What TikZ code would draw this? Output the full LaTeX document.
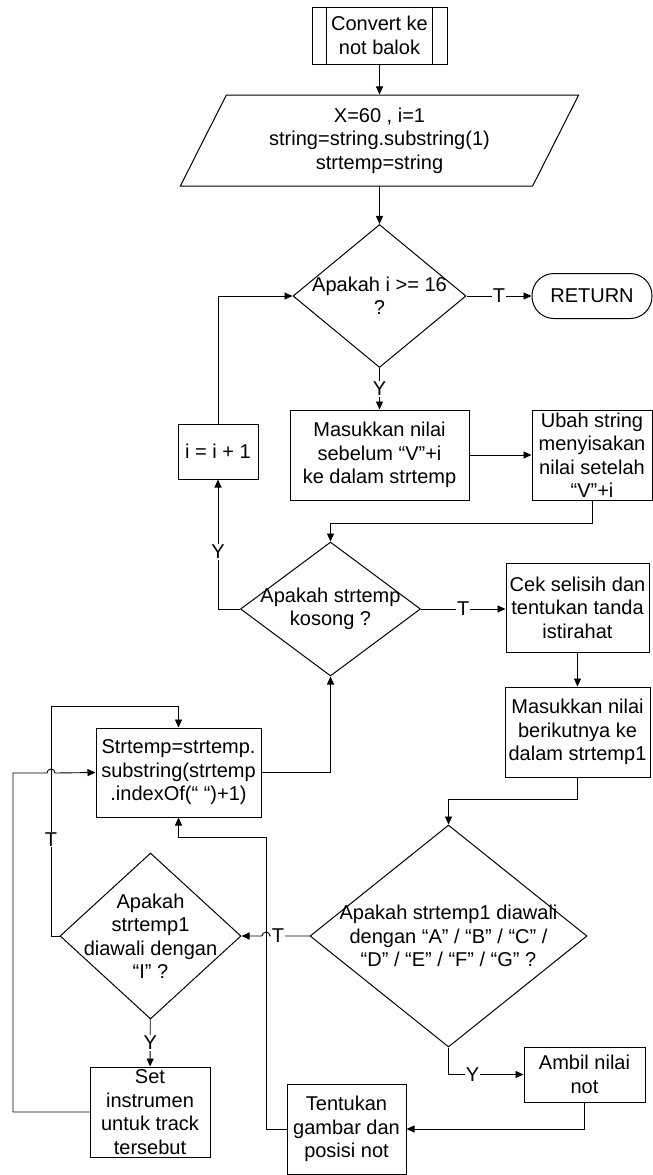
\documentclass[tikz,border=0pt]{standalone}
\usepackage{fontspec}
\setmainfont{Liberation Sans}
\usetikzlibrary{shapes.geometric,arrows.meta}

\begin{document}
\begin{tikzpicture}[x=1pt,y=-1pt,line width=0.9pt,
	every node/.style={font=\fontsize{20}{23.5}\selectfont, align=center, inner sep=0pt},
	box/.style={draw, rectangle, line width=1pt},
	decision/.style={draw, diamond, line width=1pt},
	lbl/.style={fill=white, inner sep=1pt},
	arr/.style={-{Triangle[length=8pt,width=7pt]}}]
	\useasboundingbox (0,0) rectangle (653,1175);
	\node[box, minimum width=135pt, minimum height=57pt] (conv) at (379.5,35.5) {Convert ke\\not balok};
	\draw ([xshift=15pt]conv.north west) -- ([xshift=15pt]conv.south west);
	\draw ([xshift=-15pt]conv.north east) -- ([xshift=-15pt]conv.south east);
	\node[draw, line width=1pt, trapezium, trapezium left angle=63.2, trapezium right angle=116.8, trapezium stretches=true, minimum width=399pt, minimum height=91pt] (para) at (379.5,140.5) {X=60 , i=1\\string=string.substring(1)\\strtemp=string};
	\node[decision, minimum width=173pt, minimum height=143pt, label={center:Apakah i >= 16\\?}] (d1) at (379.5,296) {};
	\node[draw, line width=1pt, rounded corners=22pt, minimum width=120pt, minimum height=45pt] (ret) at (592,296) {RETURN};
	\node[box, minimum width=179pt, minimum height=90pt] (masuk) at (379.5,455) {Masukkan nilai\\sebelum “V”+i\\ke dalam strtemp};
	\node[box, minimum width=80pt, minimum height=55pt] (inc) at (218,451.5) {i = i + 1};
	\node[box, minimum width=120pt, minimum height=90pt] (ubah) at (592,455) {Ubah string\\menyisakan\\nilai setelah\\“V”+i};
	\node[decision, minimum width=180pt, minimum height=134pt, label={center:Apakah strtemp\\kosong ?}] (d2) at (330.5,609) {};
	\node[box, minimum width=143pt, minimum height=89pt] (cek) at (577.5,607.5) {Cek selisih dan\\tentukan tanda\\istirahat};
	\node[box, minimum width=145pt, minimum height=90pt] (isi) at (577.5,732) {Masukkan nilai\\berikutnya ke\\dalam strtemp1};
	\node[box, minimum width=165pt, minimum height=89pt] (strt) at (178.5,772.5) {Strtemp=strtemp.\\substring(strtemp\\.indexOf(“ “)+1)};
	\node[decision, minimum width=277pt, minimum height=222pt, label={center:Apakah strtemp1 diawali\\dengan “A” / “B” / “C” /\\“D” / “E” / “F” / “G” ?}] (d3) at (448.5,936) {};
	\node[decision, minimum width=181pt, minimum height=166pt, label={center:Apakah\\strtemp1\\diawali dengan\\“I” ?}] (d4) at (150.5,936) {};
	\node[box, minimum width=120pt, minimum height=90pt] (set) at (150,1112) {Set\\instrumen\\untuk track\\tersebut};
	\node[box, minimum width=121pt, minimum height=55pt] (ambil) at (584.5,1074.5) {Ambil nilai\\not};
	\node[box, minimum width=119pt, minimum height=90pt] (tent) at (346.5,1129) {Tentukan\\gambar dan\\posisi not};
	\coordinate (tloop) at (51,706);
	\coordinate (lloop) at (13,773);
	\coordinate (rloop) at (266,837);
	\draw[arr] (conv) -- (para);
	\draw[arr] (para) -- (d1);
	\draw[arr] (d1) -- node[lbl]{T} (ret);
	\draw[arr] (d1) -- node[lbl]{Y} (masuk);
	\draw[arr] (masuk) -- (ubah);
	\draw[arr] (ubah.south) -- ++(0,23) -| (d2.north);
	\draw[arr] (d2.west) -| node[lbl, pos=0.72]{Y} (inc.south);
	\draw[arr] (inc.north) |- (d1.west);
	\draw[arr] (d2.east) -- node[lbl]{T} (d2.east -| cek.west);
	\draw[arr] (cek) -- (isi);
	\draw[arr] (isi.south) -- ++(0,22) -| (d3.north);
	\draw[arr] (d3.west) -- node[lbl, pos=0.8]{T} ([xshift=4pt]rloop |- d3.west) arc[start angle=0, end angle=180, radius=4pt] -- (d4.east);
	\draw[arr] (d4) -- node[lbl]{Y} (set);
	\draw[arr] (set.west) -| (lloop) -- ([xshift=-4pt]tloop |- lloop) arc[start angle=180, end angle=0, radius=4pt] -- (strt.west);
	\draw[arr] (d4.west) -| node[lbl, pos=0.71]{T} (tloop) -| (strt.north);
	\draw[arr] (strt.east) -| (d2.south);
	\draw[arr] (d3.south) |- node[lbl, pos=0.66]{Y} (ambil.west);
	\draw[arr] (ambil.south) |- (tent.east);
	\draw[arr] (tent.west) -| (rloop) -| (strt.south);
\end{tikzpicture}
\end{document}
